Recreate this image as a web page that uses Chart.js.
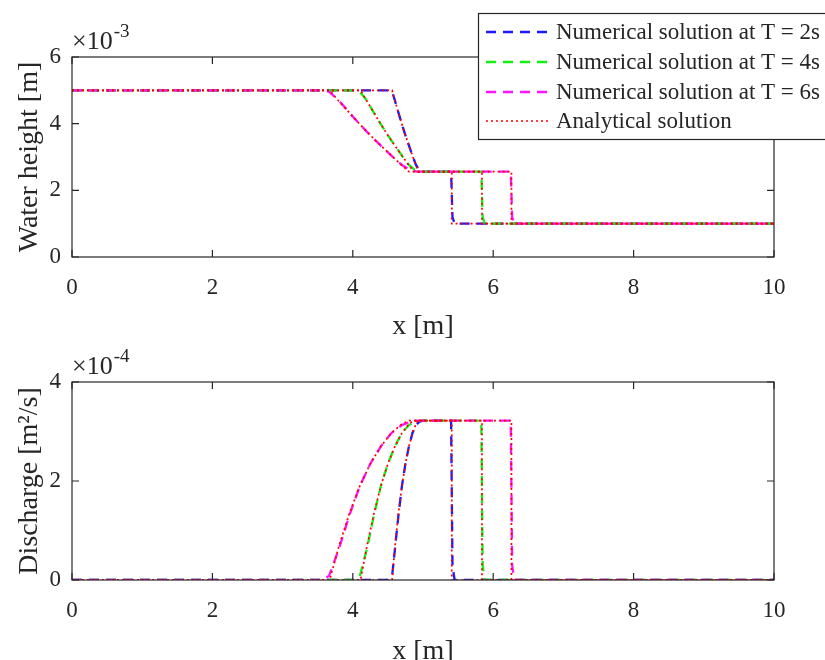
<!DOCTYPE html>
<html>
<head>
<meta charset="utf-8">
<script src="https://cdn.jsdelivr.net/npm/chart.js@4.4.0/dist/chart.umd.min.js"></script>
<style>
  html, body { margin: 0; padding: 0; background: #fff; }
  #wrap { position: relative; width: 825px; height: 660px; overflow: hidden; }
  .box { position: absolute; left: 0; width: 825px; }
  #topBox { top: 0; height: 345px; }
  #botBox { top: 345px; height: 330px; }
</style>
</head>
<body>
<div id="wrap">
  <div class="box" id="topBox"><canvas id="heightChart"></canvas></div>
  <div class="box" id="botBox"><canvas id="dischargeChart"></canvas></div>
</div>
<script>
// Dam break: water height (x1e-3 m) and discharge (x1e-4 m2/s) vs x (m)

const xTicks = [0, 2, 4, 6, 8, 10];
const hTicks = [0, 2, 4, 6];
const qTicks = [0, 2, 4];

// analytical solution (same profile shape at every time, only stretched in x)
const xAna2 = [0, 4.56, 4.6, 4.65, 4.7, 4.75, 4.8, 4.85, 4.9, 4.93, 5.41, 5.41, 10];
const xAna4 = [0, 4.11, 4.2, 4.3, 4.4, 4.5, 4.6, 4.7, 4.8, 4.87, 5.84, 5.84, 10];
const xAna6 = [0, 3.67, 3.8, 3.95, 4.1, 4.25, 4.4, 4.55, 4.7, 4.80, 6.26, 6.26, 10];
const hAna  = [5, 5, 4.68, 4.33, 3.98, 3.65, 3.34, 3.04, 2.75, 2.56, 2.56, 1, 1];
const qAna  = [0, 0, 0.67, 1.34, 1.90, 2.35, 2.70, 2.97, 3.15, 3.22, 3.22, 0, 0];

// numerical solutions (a bit smeared at the corners)
const xNum2 = [0, 4.48, 4.56, 4.6, 4.65, 4.7, 4.75, 4.8, 4.85, 4.9, 4.95, 5.0, 5.40, 5.42, 5.45, 10];
const xNum4 = [0, 4.01, 4.1, 4.2, 4.3, 4.4, 4.5, 4.6, 4.7, 4.8, 4.89, 4.97, 5.83, 5.85, 5.88, 10];
const xNum6 = [0, 3.55, 3.66, 3.8, 3.95, 4.1, 4.25, 4.4, 4.55, 4.7, 4.83, 4.92, 6.25, 6.27, 6.30, 10];
const hNum  = [5, 5, 4.96, 4.7, 4.33, 3.98, 3.65, 3.34, 3.04, 2.76, 2.6, 2.56, 2.56, 1.2, 1.0, 1.0];
const qNum  = [0, 0, 0.08, 0.62, 1.3, 1.9, 2.35, 2.7, 2.97, 3.13, 3.2, 3.22, 3.22, 0.3, 0, 0];

const legendLabels = [
  'Numerical solution at T = 2s',
  'Numerical solution at T = 4s',
  'Numerical solution at T = 6s',
  'Analytical solution'
];

const BLUE = '#1a1aff', GREEN = '#12f012', MAGENTA = '#ff12ff', RED = '#ff0000';
const INK = '#262626';
const FONT = '"Liberation Serif", "Times New Roman", serif';

const pts = (xs, ys) => xs.map((x, i) => ({ x: x, y: ys[i] }));

function numDs(xs, ys, color) {
  return { data: pts(xs, ys), borderColor: color, borderWidth: 2.3, borderDash: [10, 7], pointRadius: 0, tension: 0 };
}
function anaDs(xs, ys) {
  return { data: pts(xs, ys), borderColor: RED, borderWidth: 1.7, borderDash: [2, 3], pointRadius: 0, tension: 0 };
}

// box with inward ticks on all four sides + the x10^n label
const frame = {
  id: 'frame',
  afterDraw(chart, args, opts) {
    const { ctx, chartArea: a, scales: { x, y } } = chart;
    ctx.save();
    ctx.strokeStyle = INK;
    ctx.lineWidth = 1.2;
    ctx.strokeRect(a.left, a.top, a.right - a.left, a.bottom - a.top);
    const tl = 7;
    ctx.beginPath();
    xTicks.forEach(v => {
      const px = x.getPixelForValue(v);
      ctx.moveTo(px, a.bottom); ctx.lineTo(px, a.bottom - tl);
      ctx.moveTo(px, a.top); ctx.lineTo(px, a.top + tl);
    });
    opts.yTicks.forEach(v => {
      const py = y.getPixelForValue(v);
      ctx.moveTo(a.left, py); ctx.lineTo(a.left + tl, py);
      ctx.moveTo(a.right, py); ctx.lineTo(a.right - tl, py);
    });
    ctx.stroke();
    // exponent
    ctx.fillStyle = INK;
    ctx.textBaseline = 'alphabetic';
    ctx.font = '26px ' + FONT;
    ctx.fillText('×10', a.left, a.top - 8);
    const w = ctx.measureText('×10').width;
    ctx.font = '19px ' + FONT;
    ctx.fillText(opts.exp, a.left + w + 1, a.top - 20);
    ctx.restore();
  }
};

const boxLegend = {
  id: 'boxLegend',
  afterDraw(chart) {
    const ctx = chart.ctx;
    const colors = [BLUE, GREEN, MAGENTA, RED];
    const rows = [32, 62, 92, 121];
    ctx.save();
    ctx.fillStyle = '#fff';
    ctx.fillRect(478, 13, 350, 126);
    ctx.strokeStyle = INK;
    ctx.lineWidth = 1.2;
    ctx.strokeRect(478.5, 13.5, 350, 126);
    ctx.font = '23px ' + FONT;
    ctx.textBaseline = 'middle';
    legendLabels.forEach((lab, i) => {
      ctx.beginPath();
      ctx.strokeStyle = colors[i];
      if (i < 3) { ctx.lineWidth = 2.3; ctx.setLineDash([10, 7]); }
      else { ctx.lineWidth = 1.7; ctx.setLineDash([2, 3]); }
      ctx.moveTo(486, rows[i]); ctx.lineTo(550, rows[i]);
      ctx.stroke();
      ctx.setLineDash([]);
      ctx.fillStyle = INK;
      ctx.fillText(lab, 556, rows[i] + 1);
    });
    ctx.restore();
  }
};

function makeOptions(cfg) {
  return {
    responsive: true,
    maintainAspectRatio: false,
    animation: false,
    devicePixelRatio: 1,
    layout: { padding: { left: 0, right: 51, top: cfg.top, bottom: 0 } },
    plugins: {
      legend: { display: false },
      tooltip: { enabled: false },
      frame: { yTicks: cfg.yTicks, exp: cfg.exp }
    },
    scales: {
      x: {
        type: 'linear', min: 0, max: 10,
        afterBuildTicks: s => { s.ticks = xTicks.map(v => ({ value: v })); },
        afterFit: s => { s.height = cfg.xHeight; },
        grid: { display: false, drawTicks: false },
        border: { display: false },
        ticks: { color: INK, padding: 17, maxRotation: 0, font: { family: FONT, size: 23 } },
        title: { display: true, text: 'x [m]', color: INK, padding: { top: 0, bottom: cfg.titlePad },
                 font: { family: FONT, size: 28, lineHeight: 1 } }
      },
      y: {
        min: 0, max: cfg.yMax,
        afterBuildTicks: s => { s.ticks = cfg.yTicks.map(v => ({ value: v })); },
        afterFit: s => { s.width = 72; },
        grid: { display: false, drawTicks: false },
        border: { display: false },
        ticks: { color: INK, padding: 11, font: { family: FONT, size: 23 } },
        title: { display: true, text: cfg.yTitle, color: INK, padding: { top: 16, bottom: 0 },
                 font: { family: FONT, size: 28, lineHeight: 1 } }
      }
    }
  };
}

// Water height chart
const heightEl = document.getElementById('heightChart');
if (heightEl) {
  new Chart(heightEl, {
    type: 'line',
    data: {
      datasets: [
        anaDs(xAna2, hAna), anaDs(xAna4, hAna), anaDs(xAna6, hAna),
        numDs(xNum6, hNum, MAGENTA), numDs(xNum4, hNum, GREEN), numDs(xNum2, hNum, BLUE)
      ]
    },
    options: makeOptions({ top: 57, xHeight: 88, titlePad: 4, yMax: 6, yTicks: hTicks, exp: '-3', yTitle: 'Water height [m]' }),
    plugins: [frame, boxLegend]
  });
}

// Discharge chart
const qEl = document.getElementById('dischargeChart');
if (qEl) {
  new Chart(qEl, {
    type: 'line',
    data: {
      datasets: [
        anaDs(xAna2, qAna), anaDs(xAna4, qAna), anaDs(xAna6, qAna),
        numDs(xNum6, qNum, MAGENTA), numDs(xNum4, qNum, GREEN), numDs(xNum2, qNum, BLUE)
      ]
    },
    options: makeOptions({ top: 37, xHeight: 95, titlePad: 9, yMax: 4, yTicks: qTicks, exp: '-4', yTitle: 'Discharge [m²/s]' }),
    plugins: [frame]
  });
}
</script>
</body>
</html>
